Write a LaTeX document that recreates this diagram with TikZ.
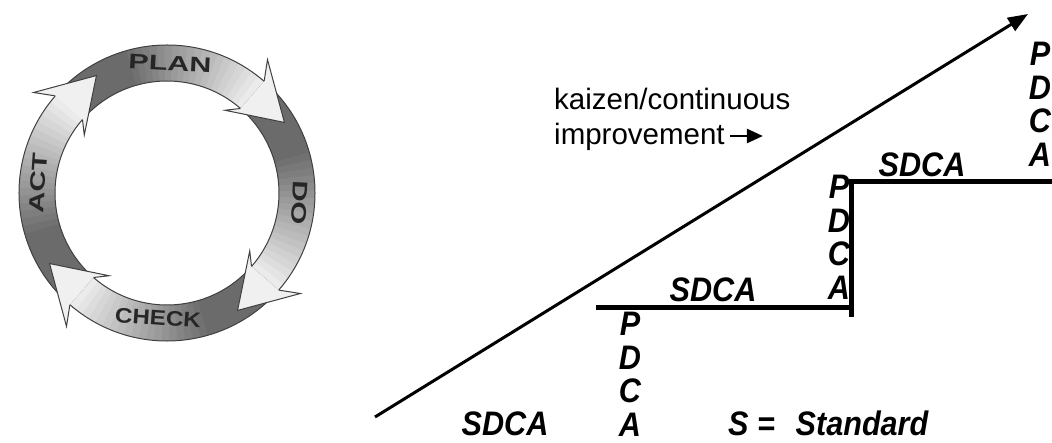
\documentclass[tikz,border=0pt]{standalone}
\usepackage{fontspec}
\setmainfont{Liberation Sans}
\usetikzlibrary{arrows.meta,calc}
\tikzset{
  bandline/.style={draw=black!75, line width=1pt},
  ringlabel/.style={text=black!85, font=\fontsize{21}{21}\selectfont\bfseries, inner sep=0pt},
  cyclelabel/.style={font=\fontsize{34}{33.5}\selectfont\bfseries\itshape, inner sep=0pt, xscale=0.9},
  stairline/.style={line width=5pt},
  trendarrow/.style={line width=3pt, -{Triangle[length=20pt,width=15pt]}},
  notetext/.style={font=\fontsize{29.5}{36}\selectfont, inner sep=0pt, anchor=base west},
  notearrow/.style={line width=2.5pt, -{Triangle[length=16pt,width=14pt]}},
}
% curved band with gradient: #1 = head angle
\newcommand\pdcaband[1]{%
  \foreach \i in {0,...,29}{%
    \pgfmathsetmacro\aa{#1+108-\i*3}%
    \pgfmathsetmacro\ab{\aa-3.4}%
    \pgfmathsetmacro\fr{\i/29}%
    \pgfmathsetmacro\sh{\fr<0.35 ? 58 : 58-50*(\fr-0.35)/0.65}%
    \fill[black!\sh] (\aa:112pt) arc[start angle=\aa, end angle=\ab, radius=112pt]
      -- (\ab:148pt) arc[start angle=\ab, end angle=\aa, radius=148pt] -- cycle;
  }%
  \draw[bandline] ({#1+108}:148pt) arc[start angle={#1+108}, end angle={#1+18}, radius=148pt];
  \draw[bandline] ({#1+108}:112pt) arc[start angle={#1+108}, end angle={#1+18}, radius=112pt];
}
\newcommand\pdcahead[1]{%
  \fill[black!6] ({#1+18}:148pt) -- ({#1+22}:167pt) -- (#1:137pt) -- ({#1+24}:101pt) -- ({#1+18}:112pt) -- cycle;
  \draw[bandline] ({#1+18}:148pt) -- ({#1+22}:167pt) -- (#1:137pt) -- ({#1+24}:101pt) -- ({#1+18}:112pt);
}
\begin{document}
\begin{tikzpicture}[x=1pt,y=1pt]
\useasboundingbox (0,0) rectangle (1052,442);
\fill[white] (0,0) rectangle (1052,442);

% ---- PDCA wheel ----
\begin{scope}[shift={(167,249)}]
  \pdcaband{31}
  \pdcaband{-59}
  \pdcaband{-149}
  \pdcaband{121}
  \pdcahead{31}
  \pdcahead{-59}
  \pdcahead{-149}
  \pdcahead{121}
\end{scope}
\node[ringlabel, rotate=-3] (plan) at (170,379) {\scalebox{1.45}[1]{PLAN}};
\node[ringlabel, rotate=-93] (do) at (300,239) {\scalebox{1.4}[1]{DO}};
\node[ringlabel, rotate=-4] (check) at (158,124) {\scalebox{1.15}[1]{CHECK}};
\node[ringlabel, rotate=86] (act) at (38,259) {\scalebox{1.4}[1]{ACT}};

% ---- kaizen staircase ----
\coordinate (a0) at (375,25);
\coordinate (a1) at (1028,428);
\draw[trendarrow] (a0) -- (a1);

\coordinate (s1) at (596,134.3);
\coordinate (s2) at (851,134.3);
\coordinate (s3) at (851,260);
\coordinate (s4) at (1060,260);
\coordinate (s0) at (851,125);
\draw[stairline, line join=miter] (s1) -- (s2) -- (s3) -- (s4);
\draw[stairline] (s2) -- (s0);

\node[cyclelabel, anchor=base] (sd0) at (505,7) {SDCA};
\node[cyclelabel, anchor=base] (sd1) at (713,140) {SDCA};
\node[cyclelabel, anchor=base] (sd2) at (922,265) {SDCA};
\node[cyclelabel, align=center, anchor=north] (pd1) at (630,130) {P\\D\\C\\A};
\node[cyclelabel, align=center, anchor=north] (pd2) at (839,267) {P\\D\\C\\A};
\node[cyclelabel, align=center, anchor=north] (pd3) at (1040,400) {P\\D\\C\\A};
\node[cyclelabel, anchor=base west] (std) at (728,7) {S =\hspace{0.4em} Standard};

\node[notetext] (k1) at (554,332) {kaizen/continuous};
\node[notetext] (k2) at (554,297) {improvement};
\coordinate (kt) at ($(k2.base east)+(38,9)$);
\draw[notearrow] ($(k2.base east)+(5,9)$) -- (kt);
\end{tikzpicture}
\end{document}
